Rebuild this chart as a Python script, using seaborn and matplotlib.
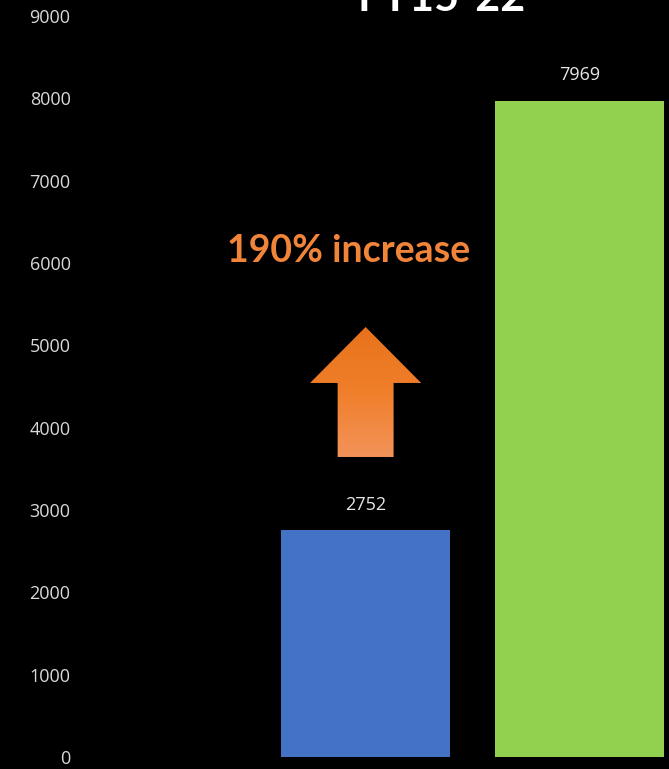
import matplotlib
matplotlib.use("Agg")
import matplotlib.pyplot as plt
import numpy as np
import seaborn as sns
from matplotlib.patches import Polygon

# data
years = ["FY15", "FY22"]
counts = [2752, 7969]
bar_colors = ["#4472C4", "#92D050"]
y_ticks = [0, 1000, 2000, 3000, 4000, 5000, 6000, 7000, 8000, 9000]
title_text = "FY15-22"
note_text = "190% increase"

sns.set_theme(style="white")
plt.rcParams['font.family'] = ['Open Sans', 'DejaVu Sans']

fig = plt.figure(figsize=(6.69, 7.69), dpi=100, facecolor="black")
ax = fig.add_axes([90 / 669, 12 / 769, (669 - 90) / 669, (757 - 16) / 769])
ax.set_facecolor("black")

sns.barplot(x=years, y=counts, hue=years, palette=bar_colors, width=0.79,
            legend=False, saturation=1, linewidth=0, edgecolor="none", ax=ax)

ax.set_xlim(-1.29, 1.42)
ax.set_ylim(0, 9000)
ax.set_yticks(y_ticks)
ax.set_yticklabels([str(t) for t in y_ticks], color="#d9d9d9", fontsize=13)
ax.tick_params(axis="y", length=0, pad=14)
ax.set_xticks([])
ax.set_xlabel("")
ax.set_ylabel("")
for s in ax.spines.values():
    s.set_visible(False)

# value labels
for i, v in enumerate(counts):
    ax.annotate(str(v), (i, v), xytext=(0, 12), textcoords="offset points",
                ha="center", va="bottom", color="#e6e6e6", fontsize=13)

# gradient up arrow over the first bar
bottom, neck, tip = 3644, 4543, 5223
sw, hw = 0.131, 0.26
pts = [(-sw, bottom), (sw, bottom), (sw, neck), (hw, neck), (0, tip),
       (-hw, neck), (-sw, neck)]
poly = Polygon(pts, closed=True, facecolor="none", edgecolor="none", transform=ax.transData)
ax.add_patch(poly)
grad = np.linspace(0, 1, 256).reshape(-1, 1)
cmap = matplotlib.colors.LinearSegmentedColormap.from_list("o", ["#F3935A", "#F07F2A", "#E8721B"])
im = ax.imshow(grad, cmap=cmap, extent=(-hw, hw, bottom, tip), origin="lower",
               aspect="auto", zorder=3)
im.set_clip_path(poly)

ax.text(-0.08, 6150, note_text, ha="center", va="center", color="#F0853A",
        fontsize=27, fontweight="bold", family=["Lato", "DejaVu Sans"])

fig.text(442 / 669, 1 - 11 / 769, title_text, ha="center", va="baseline",
         color="white", fontsize=31, fontweight="bold", family=["Lato", "DejaVu Sans"])

fig.savefig("out.png", dpi=100, facecolor="black")
